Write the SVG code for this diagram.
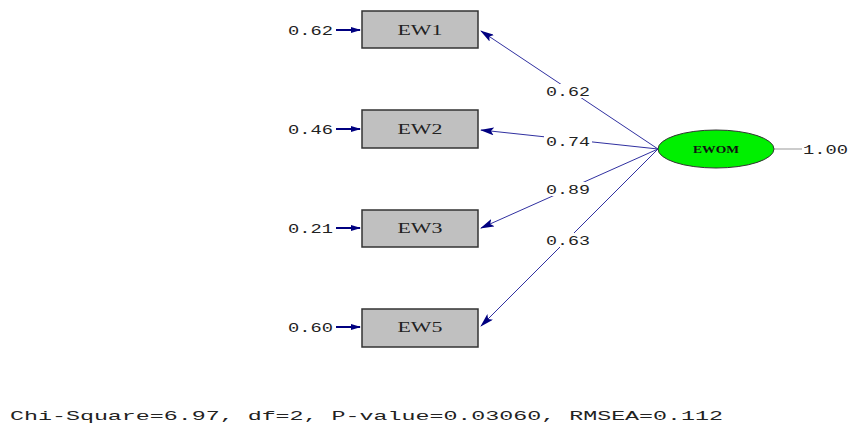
<svg xmlns="http://www.w3.org/2000/svg" width="856" height="425" viewBox="0 0 856 425">
<defs>
<marker id="ah" markerWidth="14" markerHeight="8" refX="13" refY="4" orient="auto" markerUnits="userSpaceOnUse">
<path d="M0,0 L14,4 L0,8 L3,4 Z" fill="#000080"/>
</marker>
<marker id="ahs" markerWidth="10" markerHeight="6" refX="9" refY="3" orient="auto" markerUnits="userSpaceOnUse">
<path d="M0,0 L10,3 L0,6 Z" fill="#000080"/>
</marker>
</defs>
<style>
.box{fill:#c0c0c0;stroke:#333;stroke-width:1.5}
.lbl{font-family:"Liberation Serif",serif;font-size:15px;fill:#222}
.num{font-family:"Liberation Mono",monospace;font-size:13px;fill:#222}
.path{stroke:#3030a0;stroke-width:1;fill:none}
.err{stroke:#000080;stroke-width:2;fill:none}
.bg{fill:#fff}
</style>
<rect width="856" height="425" fill="#fff"/>
<g id="connectors">
<line class="path" x1="658" y1="149" x2="481" y2="31" marker-end="url(#ah)"/>
<line class="path" x1="658" y1="149" x2="481" y2="130" marker-end="url(#ah)"/>
<line class="path" x1="658" y1="149" x2="481" y2="228" marker-end="url(#ah)"/>
<line class="path" x1="658" y1="149" x2="481" y2="326" marker-end="url(#ah)"/>
<rect class="bg" x="544" y="84" width="48" height="14"/>
<text class="num" x="546" y="96" textLength="44" lengthAdjust="spacingAndGlyphs">0.62</text>
<rect class="bg" x="544" y="134" width="48" height="14"/>
<text class="num" x="546" y="146" textLength="44" lengthAdjust="spacingAndGlyphs">0.74</text>
<rect class="bg" x="544" y="182" width="48" height="14"/>
<text class="num" x="546" y="194" textLength="44" lengthAdjust="spacingAndGlyphs">0.89</text>
<rect class="bg" x="544" y="233" width="48" height="14"/>
<text class="num" x="546" y="245" textLength="44" lengthAdjust="spacingAndGlyphs">0.63</text>
<line class="err" x1="336" y1="30" x2="360" y2="30" marker-end="url(#ahs)"/>
<line class="err" x1="336" y1="129" x2="360" y2="129" marker-end="url(#ahs)"/>
<line class="err" x1="336" y1="228" x2="360" y2="228" marker-end="url(#ahs)"/>
<line class="err" x1="336" y1="327" x2="360" y2="327" marker-end="url(#ahs)"/>
<line x1="774" y1="149" x2="802" y2="149" stroke="#999" stroke-width="1"/>
</g>
<g id="EW1">
<rect class="box" x="362" y="11" width="116" height="37"/>
<text class="lbl" x="420" y="35" text-anchor="middle" textLength="45" lengthAdjust="spacingAndGlyphs">EW1</text>
<text class="num" x="288" y="35" textLength="45" lengthAdjust="spacingAndGlyphs">0.62</text>
</g>
<g id="EW2">
<rect class="box" x="362" y="110" width="116" height="38"/>
<text class="lbl" x="420" y="134" text-anchor="middle" textLength="45" lengthAdjust="spacingAndGlyphs">EW2</text>
<text class="num" x="288" y="134" textLength="45" lengthAdjust="spacingAndGlyphs">0.46</text>
</g>
<g id="EW3">
<rect class="box" x="362" y="210" width="116" height="37"/>
<text class="lbl" x="420" y="233" text-anchor="middle" textLength="45" lengthAdjust="spacingAndGlyphs">EW3</text>
<text class="num" x="288" y="233" textLength="45" lengthAdjust="spacingAndGlyphs">0.21</text>
</g>
<g id="EW5">
<rect class="box" x="362" y="309" width="116" height="38"/>
<text class="lbl" x="420" y="332" text-anchor="middle" textLength="45" lengthAdjust="spacingAndGlyphs">EW5</text>
<text class="num" x="288" y="332" textLength="45" lengthAdjust="spacingAndGlyphs">0.60</text>
</g>
<g id="EWOM">
<ellipse cx="716" cy="149" rx="58" ry="19" fill="#00f000" stroke="#333" stroke-width="1"/>
<text x="716" y="153" text-anchor="middle" font-family="Liberation Serif, serif" font-weight="bold" font-size="11" fill="#111" textLength="46" lengthAdjust="spacingAndGlyphs">EWOM</text>
<text class="num" x="803" y="154" textLength="45" lengthAdjust="spacingAndGlyphs">1.00</text>
</g>
<text class="num" x="10" y="420" font-size="15" textLength="713" lengthAdjust="spacingAndGlyphs">Chi-Square=6.97, df=2, P-value=0.03060, RMSEA=0.112</text>
</svg>
